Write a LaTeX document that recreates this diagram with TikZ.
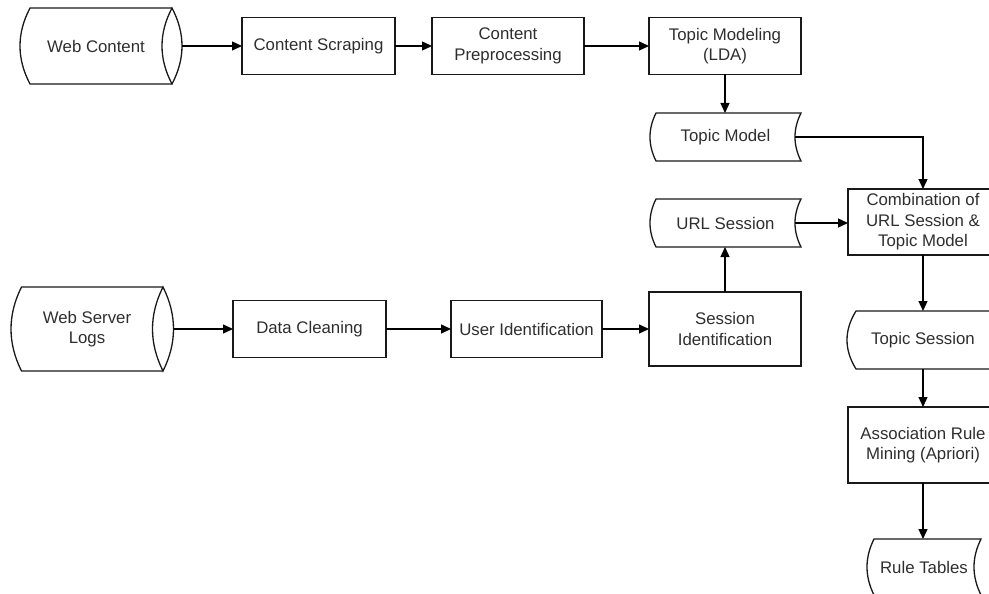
\documentclass[tikz,border=0pt]{standalone}
\usepackage{fontspec}
\setmainfont{Liberation Sans}
\usetikzlibrary{arrows.meta,calc}
\tikzset{
  ln/.style={draw=black!90, line width=1.3pt, line join=miter},
  lbl/.style={text=black!82, font=\fontsize{16.8}{20.5}\selectfont, align=center, inner sep=0pt, outer sep=0pt},
  boxnode/.style={lbl, draw=black!90, line width=1.3pt, rectangle},
  arr/.style={draw=black, line width=1.3pt, -{Triangle[length=10pt,width=9pt]}}
}
% stored data: #1 left x, #2 right x, #3 top y, #4 bottom y, #5 arc depth
\newcommand\storedshape[5]{%
  \pgfmathsetmacro\stA{#3+(#4-#3)/3}\pgfmathsetmacro\stB{#4-(#4-#3)/3}%
  \draw[ln] ({#1+#5},#3) -- (#2,#3)
    .. controls ({#2-4*#5/3},\stA) and ({#2-4*#5/3},\stB) .. (#2,#4)
    -- ({#1+#5},#4)
    .. controls ({#1-#5/3},\stB) and ({#1-#5/3},\stA) .. cycle;}
% direct access storage: #1 left x, #2 lens centre x, #3 top y, #4 bottom y, #5 depth
\newcommand\dasdshape[5]{%
  \pgfmathsetmacro\stA{#3+(#4-#3)/3}\pgfmathsetmacro\stB{#4-(#4-#3)/3}%
  \draw[ln] (#2,#3) -- ({#1+#5},#3)
    .. controls ({#1-#5/3},\stA) and ({#1-#5/3},\stB) .. ({#1+#5},#4)
    -- (#2,#4);
  \draw[ln] (#2,#3) .. controls ({#2-4*#5/3},\stA) and ({#2-4*#5/3},\stB) .. (#2,#4)
    .. controls ({#2+4*#5/3},\stB) and ({#2+4*#5/3},\stA) .. cycle;}
\begin{document}
\begin{tikzpicture}[x=1pt,y=-1pt]
\useasboundingbox (0,0) rectangle (989,594);
\clip (0,0) rectangle (989,594);

% ---- row 1
\dasdshape{20}{172}{8}{84}{10}
\node[lbl, minimum width=152pt, minimum height=76pt] (wc) at (96,46) {Web Content};
\node[boxnode, minimum width=153pt, minimum height=57pt] (cs) at (318.5,46) {Content Scraping};
\node[boxnode, minimum width=152pt, minimum height=57pt] (cp) at (508,46) {Content\\Preprocessing};
\node[boxnode, minimum width=152pt, minimum height=57pt] (lda) at (725,46) {Topic Modeling\\(LDA)};

\storedshape{650}{801}{113}{161}{6}
\node[lbl, minimum width=151pt, minimum height=48pt] (tm) at (725.5,137) {Topic Model};

\storedshape{650}{801}{199}{247}{6}
\node[lbl, minimum width=151pt, minimum height=48pt] (us) at (725.5,223) {URL Session};

\node[boxnode, minimum width=150pt, minimum height=66pt] (comb) at (923,222) {Combination of\\URL Session \&\\Topic Model};

% ---- row 2
\dasdshape{11}{163}{287}{371}{10.5}
\node[lbl, minimum width=152pt, minimum height=84pt] (wsl) at (87,329) {Web Server\\Logs};
\node[boxnode, minimum width=153pt, minimum height=57pt] (dc) at (309.5,329) {Data Cleaning};
\node[boxnode, minimum width=151pt, minimum height=57pt] (ui) at (526.5,329) {User Identification};
\node[boxnode, minimum width=152pt, minimum height=74pt] (si) at (725,329) {Session\\Identification};

% ---- right column
\storedshape{847}{999}{311}{369}{9}
\node[lbl, minimum width=152pt, minimum height=58pt] (ts) at (923,340) {Topic Session};
\node[boxnode, minimum width=150pt, minimum height=76pt] (ar) at (923,445) {Association Rule\\Mining (Apriori)};
\storedshape{867}{981}{539}{595}{7}
\node[lbl, minimum width=114pt, minimum height=56pt] (rt) at (924,567) {Rule Tables};

% ---- connectors
\draw[arr] ([xshift=10pt]wc.east) -- (cs.west);
\draw[arr] (cs.east) -- (cp.west);
\draw[arr] (cp.east) -- (lda.west);
\draw[arr] (lda.south) -- (lda.south |- tm.north);
\draw[arr] ([xshift=-6pt]tm.east) -| (comb.north);
\draw[arr] ([xshift=-6pt]us.east) -- (us.east -| comb.west);
\draw[arr] ([xshift=10.5pt]wsl.east) -- (dc.west);
\draw[arr] (dc.east) -- (ui.west);
\draw[arr] (ui.east) -- (si.west);
\draw[arr] (si.north) -- (si.north |- us.south);
\draw[arr] (comb.south) -- (comb.south |- ts.north);
\draw[arr] (ts.south) -- (ts.south |- ar.north);
\draw[arr] (ar.south) -- (ar.south |- rt.north);
\end{tikzpicture}
\end{document}
